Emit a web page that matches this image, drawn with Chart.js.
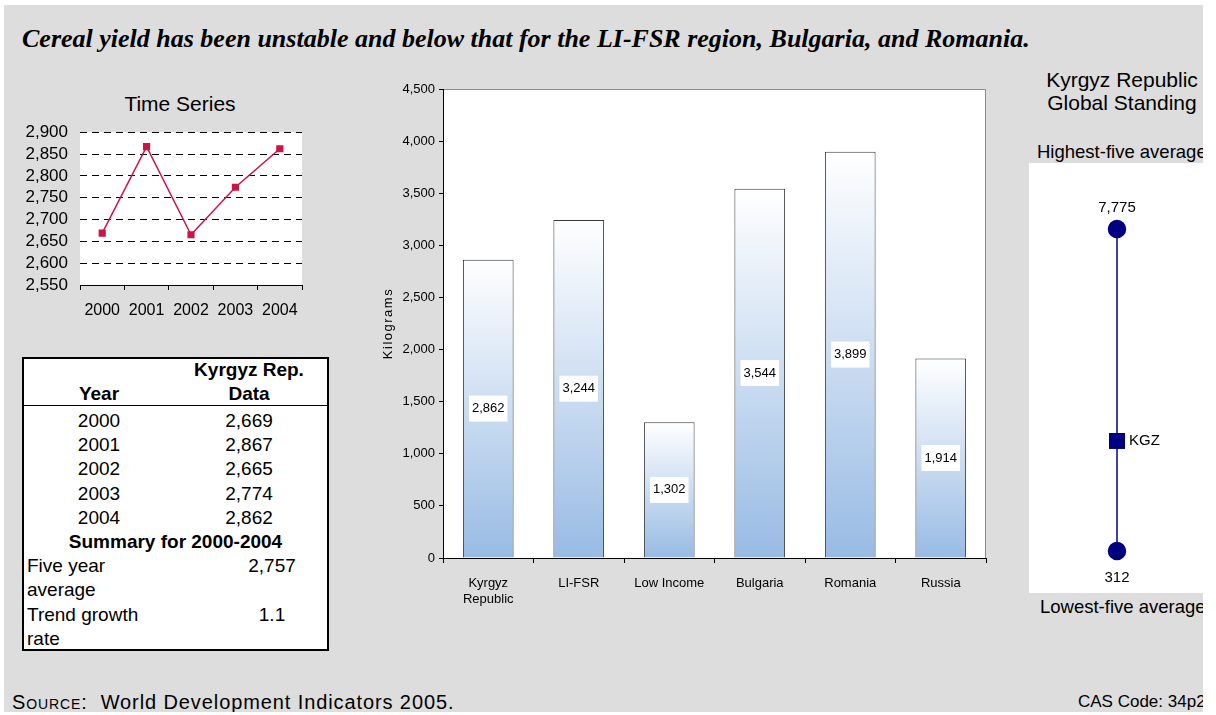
<!DOCTYPE html>
<html>
<head>
<meta charset="utf-8">
<script src="https://cdn.jsdelivr.net/npm/chart.js@4.4.1/dist/chart.umd.min.js"></script>
<style>
  html, body { margin: 0; padding: 0; background: #ffffff; }
  body { width: 1216px; height: 715px; position: relative; overflow: hidden;
         font-family: "Liberation Sans", Arial, sans-serif; color: #000; }
  #frame { position: absolute; left: 0; top: 0; width: 1203px; height: 712px; overflow: hidden; }
  #panel { position: absolute; left: 4px; top: 5px; width: 1199px; height: 707px; background: #dddddd; }
  .abs { position: absolute; white-space: nowrap; }
  #headline { left: 22px; top: 24px; font-family: "Liberation Serif", "Times New Roman", serif;
              font-weight: bold; font-style: italic; font-size: 26px; }
  .ctitle { font-size: 21px; text-align: center; }
  canvas { position: absolute; }
  #tableBox { position: absolute; left: 22px; top: 357px; width: 303px; height: 290px;
              border: 2px solid #000; background: #ffffff; font-size: 19px; }
  #tableBox .abs { line-height: 24px; }
  #tableRule { position: absolute; left: 0; top: 46px; width: 100%; height: 1px; background: #000; }
  .sc { font-size: 14px; }
</style>
</head>
<body>
<div id="frame">
  <div id="panel"></div>

  <div id="headline" class="abs">Cereal yield has been unstable and below that for the LI-FSR region, Bulgaria, and Romania.</div>

  <div class="abs ctitle" style="left:80px; top:92px; width:200px;">Time Series</div>
  <canvas id="tsChart" style="left:8px; top:110px;" width="310" height="220"></canvas>

  <div id="tableBox"></div>

  <canvas id="barChart" style="left:370px; top:75px;" width="630" height="545"></canvas>

  <div class="abs ctitle" style="left:1020px; top:68px; width:204px;">Kyrgyz Republic</div>
  <div class="abs ctitle" style="left:1020px; top:91px; width:204px;">Global Standing</div>
  <div class="abs" style="left:1037px; top:141px; font-size:18.5px;">Highest-five average</div>
  <canvas id="rangeChart" style="left:1029px; top:163px; background:#ffffff;" width="176" height="430"></canvas>
  <div class="abs" style="left:1040px; top:596px; font-size:18.5px;">Lowest-five average</div>

  <div class="abs" style="left:12px; top:691px; font-size:20px; letter-spacing:0.9px;">S<span class="sc">OURCE</span>:&nbsp; World Development Indicators 2005.</div>
  <div class="abs" style="left:1078px; top:692px; font-size:17px;">CAS Code: 34p2</div>
</div>

<script>
// Cereal yield, kilograms per hectare
const years = ['2000', '2001', '2002', '2003', '2004'];
const kgzYield = [2669, 2867, 2665, 2774, 2862];

const summaryLabels = ['Five year', 'average', 'Trend growth', 'rate'];
const fiveYearAverage = 2757;
const trendGrowthRate = 1.1;

const regions = [['Kyrgyz', 'Republic'], 'LI-FSR', 'Low Income', 'Bulgaria', 'Romania', 'Russia'];
const regionYield = [2862, 3244, 1302, 3544, 3899, 1914];

const standingRange = [312, 7775];
const standingCode = 'KGZ';
const standingValue = 2862;

const fmt = v => Number(v).toLocaleString('en-US');

Chart.defaults.font.family = '"Liberation Sans", Arial, sans-serif';
Chart.defaults.color = '#000';
Chart.defaults.animation = false;
Chart.defaults.plugins.legend.display = false;
Chart.defaults.plugins.tooltip.enabled = false;

// White plotting area behind the data
const plotBackground = {
  id: 'plotBackground',
  beforeDraw(chart, args, opts) {
    const { ctx, chartArea: a } = chart;
    ctx.save();
    ctx.fillStyle = '#ffffff';
    ctx.fillRect(a.left, a.top, a.right - a.left, a.bottom - a.top);
    if (opts.frame) {
      ctx.strokeStyle = opts.frame;
      ctx.lineWidth = 1;
      ctx.strokeRect(a.left + 0.5, a.top + 0.5, a.right - a.left - 1, a.bottom - a.top);
    }
    ctx.restore();
  }
};

// ---------- Time series line chart ----------
new Chart(document.getElementById('tsChart'), {
  type: 'line',
  data: {
    labels: years,
    datasets: [{
      data: kgzYield,
      borderColor: '#cc1448',
      backgroundColor: '#cc1448',
      borderWidth: 1.5,
      pointStyle: 'rect',
      pointRadius: 4,
      tension: 0
    }]
  },
  options: {
    responsive: false,
    layout: { padding: { top: 1, right: 16 } },
    scales: {
      x: {
        offset: true,
        grid: { offset: true, drawOnChartArea: false, drawTicks: true, tickLength: 5, color: '#000' },
        border: { display: true, color: '#000', width: 1 },
        ticks: { font: { size: 16 }, padding: 11, maxRotation: 0 },
        afterFit: s => { s.height = 45; }
      },
      y: {
        min: 2550, max: 2900,
        grid: { color: c => c.tick.value === 2550 ? 'rgba(0,0,0,0)' : '#000', drawTicks: false, lineWidth: 1 },
        border: { display: false, dash: [7, 5] },
        ticks: { stepSize: 50, autoSkip: false, font: { size: 17 }, padding: 12, callback: v => fmt(v) },
        afterFit: s => { s.width = 72; }
      }
    }
  },
  plugins: [plotBackground]
});

// ---------- Data table ----------
(function buildTable() {
  const box = document.getElementById('tableBox');
  const add = (text, style) => {
    const d = document.createElement('div');
    d.className = 'abs';
    d.textContent = text;
    Object.assign(d.style, style);
    box.appendChild(d);
  };
  add('Kyrgyz Rep.', { left: '150px', width: '150px', textAlign: 'center', top: '-1px', fontWeight: 'bold' });
  add('Data', { left: '150px', width: '150px', textAlign: 'center', top: '23px', fontWeight: 'bold' });
  add('Year', { left: '20px', width: '110px', textAlign: 'center', top: '23px', fontWeight: 'bold' });
  const rule = document.createElement('div');
  rule.id = 'tableRule';
  box.appendChild(rule);
  const rowTop = 50, pitch = 24.2;
  years.forEach((y, i) => {
    add(y, { left: '20px', width: '110px', textAlign: 'center', top: (rowTop + i * pitch) + 'px' });
    add(fmt(kgzYield[i]), { left: '150px', width: '150px', textAlign: 'center', top: (rowTop + i * pitch) + 'px' });
  });
  const r5 = rowTop + 5 * pitch;
  add('Summary for 2000-2004', { left: '0px', width: '303px', textAlign: 'center', top: r5 + 'px', fontWeight: 'bold' });
  summaryLabels.forEach((t, i) => add(t, { left: '3px', top: (r5 + (i + 1) * pitch) + 'px' }));
  add(fmt(fiveYearAverage), { left: '200px', width: '96px', textAlign: 'center', top: (r5 + pitch) + 'px' });
  add(trendGrowthRate.toFixed(1), { left: '200px', width: '96px', textAlign: 'center', top: (r5 + 3 * pitch) + 'px' });
})();

// ---------- Regional comparison bar chart ----------
const barValueBoxes = {
  id: 'barValueBoxes',
  afterDatasetsDraw(chart) {
    const { ctx } = chart;
    const meta = chart.getDatasetMeta(0);
    ctx.save();
    ctx.font = '13px "Liberation Sans", Arial, sans-serif';
    ctx.textAlign = 'center';
    ctx.textBaseline = 'middle';
    meta.data.forEach((el, i) => {
      const txt = fmt(chart.data.datasets[0].data[i]);
      const cy = (el.y + el.base) / 2;
      const w = ctx.measureText(txt).width + 6;
      const h = 26;
      ctx.fillStyle = '#ffffff';
      ctx.fillRect(el.x - w / 2, cy - h / 2, w, h);
      ctx.fillStyle = '#000';
      ctx.fillText(txt, el.x, cy);
    });
    ctx.restore();
  }
};

const spacedAxisTitle = {
  id: 'spacedAxisTitle',
  afterDraw(chart) {
    const { ctx, chartArea: a } = chart;
    ctx.save();
    ctx.translate(18, (a.top + a.bottom) / 2);
    ctx.rotate(-Math.PI / 2);
    ctx.font = '13px "Liberation Sans", Arial, sans-serif';
    ctx.letterSpacing = '1.5px';
    ctx.textAlign = 'center';
    ctx.textBaseline = 'middle';
    ctx.fillStyle = '#000';
    ctx.fillText('Kilograms', 0, 0);
    ctx.restore();
  }
};

new Chart(document.getElementById('barChart'), {
  type: 'bar',
  data: {
    labels: regions,
    datasets: [{
      data: regionYield,
      borderColor: '#3a3a3a',
      borderWidth: 1,
      borderSkipped: 'start',
      categoryPercentage: 1,
      barPercentage: 0.56,
      backgroundColor: c => {
        const chart = c.chart;
        if (!chart.chartArea || c.raw === undefined) return '#9dbde6';
        const ys = chart.scales.y;
        const top = ys.getPixelForValue(c.raw);
        const bottom = ys.getPixelForValue(0);
        const g = chart.ctx.createLinearGradient(0, top, 0, bottom);
        g.addColorStop(0, '#ffffff');
        g.addColorStop(1, '#98bbe4');
        return g;
      }
    }]
  },
  options: {
    responsive: false,
    layout: { padding: { top: 14, right: 14 } },
    scales: {
      x: {
        grid: { offset: true, drawOnChartArea: false, drawTicks: true, tickLength: 5, color: '#000' },
        border: { display: true, color: '#000', width: 1 },
        ticks: { font: { size: 13 }, padding: 13, maxRotation: 0, autoSkip: false },
        afterFit: s => { s.height = 62; }
      },
      y: {
        min: 0, max: 4500,
        grid: { drawOnChartArea: false, drawTicks: true, tickLength: 4, color: '#000' },
        border: { display: true, color: '#000', width: 1 },
        ticks: { stepSize: 500, font: { size: 13 }, padding: 4, callback: v => fmt(v) },
        afterFit: s => { s.width = 73; }
      }
    },
    plugins: { plotBackground: { frame: '#8c8c8c' } }
  },
  plugins: [plotBackground, barValueBoxes, spacedAxisTitle]
});

// ---------- Global standing range ----------
const standingLabelsPlugin = {
  id: 'standingLabels',
  afterDatasetsDraw(chart) {
    const { ctx } = chart;
    const range = chart.getDatasetMeta(0).data;
    const mark = chart.getDatasetMeta(1).data[0];
    ctx.save();
    ctx.font = '15px "Liberation Sans", Arial, sans-serif';
    ctx.fillStyle = '#000';
    ctx.textBaseline = 'middle';
    ctx.textAlign = 'center';
    ctx.fillText(fmt(standingRange[1]), range[1].x, range[1].y - 21);
    ctx.fillText(fmt(standingRange[0]), range[0].x, range[0].y + 27);
    ctx.textAlign = 'left';
    ctx.fillText(standingCode, mark.x + 12, mark.y);
    ctx.restore();
  }
};

new Chart(document.getElementById('rangeChart'), {
  type: 'scatter',
  data: {
    datasets: [{
      data: standingRange.map(v => ({ x: 0, y: v })),
      showLine: true,
      borderColor: '#000080',
      backgroundColor: '#000080',
      borderWidth: 1.5,
      pointRadius: 8.5,
      pointStyle: 'circle',
      clip: false
    }, {
      data: [{ x: 0, y: standingValue }],
      backgroundColor: '#000080',
      borderColor: '#000080',
      borderWidth: 0,
      pointRadius: 11.3,
      pointStyle: 'rect',
      clip: false
    }]
  },
  options: {
    responsive: false,
    layout: { padding: { top: 66, bottom: 42, left: 10, right: 0 } },
    scales: {
      x: { display: false, min: -1, max: 1 },
      y: { display: false, min: standingRange[0], max: standingRange[1] }
    }
  },
  plugins: [standingLabelsPlugin]
});
</script>
</body>
</html>
